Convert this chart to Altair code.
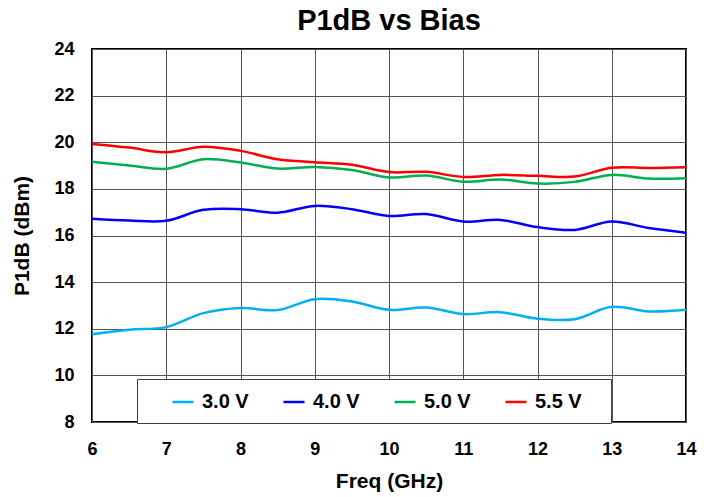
import altair as alt
import pandas as pd

freq = [6.0, 6.5, 7.0, 7.5, 8.0, 8.5, 9.0, 9.5, 10.0, 10.5, 11.0, 11.5, 12.0, 12.5, 13.0, 13.5, 14.0]
v30 = [11.76, 11.96, 12.07, 12.67, 12.89, 12.80, 13.27, 13.17, 12.81, 12.91, 12.63, 12.71, 12.43, 12.41, 12.94, 12.74, 12.81]
v40 = [16.72, 16.64, 16.63, 17.10, 17.13, 16.98, 17.27, 17.13, 16.84, 16.92, 16.60, 16.67, 16.36, 16.24, 16.60, 16.32, 16.12]
v50 = [19.16, 19.00, 18.86, 19.27, 19.13, 18.87, 18.94, 18.81, 18.49, 18.57, 18.31, 18.40, 18.23, 18.30, 18.60, 18.44, 18.46]
v55 = [19.93, 19.77, 19.57, 19.81, 19.63, 19.27, 19.14, 19.03, 18.72, 18.73, 18.51, 18.60, 18.56, 18.53, 18.91, 18.90, 18.93]

series = ["3.0 V", "4.0 V", "5.0 V", "5.5 V"]
colors = ["#00B0F0", "#0000FF", "#00B050", "#FF0000"]
x_ticks = [6, 7, 8, 9, 10, 11, 12, 13, 14]
y_ticks = [8, 10, 12, 14, 16, 18, 20, 22, 24]

rows = []
for name, vals in zip(series, [v30, v40, v50, v55]):
    for f, v in zip(freq, vals):
        rows.append({"Freq": f, "P1dB": v, "Bias": name})
df = pd.DataFrame(rows)

font = "Liberation Sans"

chart = alt.Chart(df).mark_line(interpolate="catmull-rom", strokeWidth=2.5).encode(
    x=alt.X("Freq:Q", scale=alt.Scale(domain=[6, 14], nice=False),
            axis=alt.Axis(title="Freq (GHz)", values=x_ticks, format="d", grid=True,
                          gridColor="#555555", gridWidth=1, domain=False, ticks=False, tickSize=0,
                          labelFlush=False,
                          labelPadding=18, labelFontSize=18, labelFontWeight="bold",
                          labelColor="#000000", labelFont=font,
                          titleFontSize=21, titleFontWeight="bold", titleColor="#000000",
                          titleFont=font, titlePadding=12)),
    y=alt.Y("P1dB:Q", scale=alt.Scale(domain=[8, 24], nice=False),
            axis=alt.Axis(title="P1dB (dBm)", values=y_ticks, format="d", grid=True,
                          gridColor="#555555", gridWidth=1, domain=False, ticks=False, tickSize=0,
                          labelFlush=False,
                          labelPadding=18, labelFontSize=18, labelFontWeight="bold",
                          labelColor="#000000", labelFont=font,
                          titleFontSize=21, titleFontWeight="bold", titleColor="#000000",
                          titleFont=font, titlePadding=21)),
    color=alt.Color("Bias:N", scale=alt.Scale(domain=series, range=colors),
                    legend=alt.Legend(title="\u00a0", titleOrient="right", titlePadding=18,
                                      titleFontSize=4,
                                      orient="none", legendX=45, legendY=330,
                                      direction="horizontal", symbolType="stroke",
                                      symbolSize=441, symbolStrokeWidth=2.5,
                                      symbolOffset=23,
                                      labelFontSize=20, labelFontWeight="bold", labelFont=font,
                                      labelColor="#000000", labelOffset=7, columnPadding=10,
                                      padding=11, fillColor="#FFFFFF", strokeColor="#404040")),
).properties(
    width=594, height=373,
    title=alt.TitleParams("P1dB vs Bias", fontSize=29, fontWeight="bold", font=font,
                          color="#000000", anchor="middle", frame="group", offset=4),
    padding={"left": 84, "top": 41, "right": 20, "bottom": 75},
    autosize=alt.AutoSizeParams(type="none"),
).configure_view(stroke="#000000", strokeWidth=2)

chart.save("out.html", embed_options={"renderer": "svg", "actions": False})
